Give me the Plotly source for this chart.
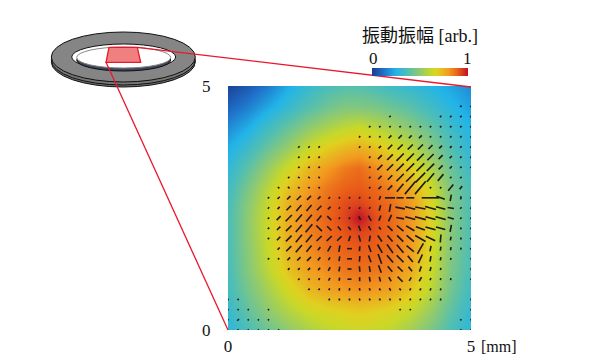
import math
import plotly.graph_objects as go

W, H = 600, 364
X_GRID = [0, .42, .83, 1.25, 1.67, 2.08, 2.4, 2.7, 3.0, 3.33, 3.75, 4.17, 4.58, 5]
Y_GRID = [0, .42, .83, 1.25, 1.67, 2.0, 2.3, 2.6, 2.92, 3.33, 3.75, 4.17, 4.58, 5]
AMPLITUDE = [
    [.28,.36,.43,.50,.56,.60,.62,.63,.62,.60,.54,.46,.36,.28],
    [.31,.41,.50,.58,.64,.67,.69,.70,.69,.67,.62,.52,.40,.30],
    [.34,.45,.55,.65,.73,.78,.80,.81,.80,.78,.71,.59,.44,.33],
    [.35,.48,.60,.72,.79,.83,.86,.87,.86,.84,.77,.63,.46,.35],
    [.36,.49,.62,.75,.82,.87,.89,.90,.89,.87,.80,.65,.47,.36],
    [.36,.50,.63,.77,.84,.88,.91,.93,.91,.88,.81,.66,.48,.36],
    [.36,.50,.63,.77,.84,.89,.93,1.0,.92,.88,.81,.67,.48,.36],
    [.35,.49,.62,.76,.83,.88,.92,.93,.90,.87,.80,.66,.47,.36],
    [.33,.46,.59,.72,.80,.86,.89,.90,.88,.84,.76,.63,.46,.35],
    [.29,.40,.52,.64,.74,.80,.85,.87,.83,.77,.69,.56,.42,.32],
    [.24,.32,.42,.52,.62,.69,.73,.75,.72,.66,.59,.48,.37,.28],
    [.17,.24,.33,.42,.50,.56,.60,.62,.59,.55,.49,.41,.32,.25],
    [.09,.15,.23,.31,.38,.44,.47,.47,.46,.43,.39,.33,.27,.21],
    [.02,.07,.14,.24,.31,.36,.38,.38,.36,.33,.30,.26,.22,.17],
]
COLORS = [[0, "#1b3a90"], [.12, "#1f70c8"], [.25, "#22b4e8"], [.38, "#55bfae"],
          [.5, "#8fca70"], [.62, "#c8d828"], [.68, "#e0d020"], [.8, "#f29a20"],
          [.9, "#e85a18"], [1, "#c0102a"]]

FIELD_CELLS = 24
_ = None
# segment length per grid node, row 0 = bottom, column 0 = left
SEG_LEN = [
 [_,4,4,4,4,4,_,_,_,_,_,_,_,_,_,_,_,_,_,_,_,_,_,4,4],
 [4,6,4,4,4,_,_,_,_,_,_,_,_,_,_,_,_,_,_,_,_,_,_,4,4],
 [4,4,4,_,4,_,_,_,_,_,_,_,_,_,_,_,_,4,4,_,_,_,_,_,4],
 [4,4,_,_,_,_,_,_,_,_,5,5,5,5,5,5,5,5,5,5,5,5,_,_,4],
 [_,_,_,_,_,_,_,_,5,5,5,6,6,6,6,6,7,6,6,6,6,5,_,_,_],
 [_,_,_,_,_,_,_,5,5,6,8,8,10,10,12,12,12,18,10,12,6,5,5,_,4],
 [_,_,_,_,_,_,6,6,8,8,10,12,10,14,14,20,18,18,14,14,10,6,_,_,4],
 [_,_,_,_,5,5,10,12,14,10,8,12,12,14,18,26,24,24,20,24,14,8,5,_,4],
 [_,_,_,_,_,8,18,24,20,10,16,16,12,12,18,24,26,26,24,30,14,10,8,5,5],
 [_,_,_,_,5,12,20,24,24,18,18,16,14,16,14,18,20,22,24,30,26,20,10,5,5],
 [_,_,_,_,5,12,20,24,26,20,15,12,10,14,12,8,18,22,24,24,26,24,18,5,5],
 [_,_,_,_,5,14,22,24,22,18,14,5,5,10,15,14,18,20,26,28,26,26,16,5,5],
 [_,_,_,_,5,8,16,20,20,16,10,5,5,5,5,14,20,24,26,26,28,24,16,5,5],
 [_,_,_,_,5,8,12,15,14,10,6,5,5,5,5,10,25,18,20,_,44,22,16,8,5],
 [_,_,_,_,_,5,6,5,5,5,_,_,_,_,5,10,16,26,42,42,5,5,20,10,_],
 [_,_,_,_,_,_,5,5,5,5,_,_,_,_,5,12,16,26,30,34,28,22,5,5,_],
 [_,_,_,_,_,_,_,5,5,5,_,_,_,_,5,18,22,26,28,28,26,14,8,5,5],
 [_,_,_,_,_,_,_,5,5,5,_,_,_,_,5,14,20,26,26,24,22,14,8,5,5],
 [_,_,_,_,_,_,_,5,5,5,_,_,_,5,5,8,16,18,18,18,14,10,6,5,5],
 [_,_,_,_,_,_,_,_,_,_,_,_,_,5,5,5,10,12,10,10,5,5,5,5,5],
 [_,_,_,_,_,_,_,_,_,_,_,_,_,_,5,5,5,5,5,5,5,5,5,5,5],
 [_,_,_,_,_,_,_,_,_,_,_,_,_,_,_,_,5,_,_,_,_,5,5,5,5],
 [_,_,_,_,_,_,_,_,_,_,_,_,_,_,_,_,_,_,_,_,_,_,_,5,5],
]
# segment direction in degrees per grid node
SEG_ANG = [
 [_,45,45,45,45,45,_,_,_,_,_,_,_,_,_,_,_,_,_,_,_,_,_,45,45],
 [45,45,45,45,45,_,_,_,_,_,_,_,_,_,_,_,_,_,_,_,_,_,_,45,45],
 [45,45,45,_,45,_,_,_,_,_,_,_,_,_,_,_,_,45,45,_,_,_,_,_,45],
 [45,45,_,_,_,_,_,_,_,_,60,80,80,-70,-60,-60,-60,-60,60,60,60,80,_,_,45],
 [_,_,_,_,_,_,_,_,45,45,60,80,80,-80,-70,-60,-60,-50,60,60,70,80,_,_,_],
 [_,_,_,_,_,_,_,45,45,60,60,80,0,90,-80,-75,-60,-45,60,60,70,80,80,_,45],
 [_,_,_,_,_,_,45,45,45,50,60,80,0,-85,-80,-70,-50,-45,-50,70,75,80,_,_,45],
 [_,_,_,_,45,45,45,45,45,50,60,80,0,85,-70,-70,-50,-45,-50,65,80,80,80,_,45],
 [_,_,_,_,_,45,45,50,50,50,60,80,0,85,-70,-60,-55,-50,-40,60,80,80,80,80,45],
 [_,_,_,_,45,45,45,50,50,45,45,45,70,-75,80,-55,-50,-45,-40,-30,-25,85,80,80,45],
 [_,_,_,_,45,45,45,50,50,-45,-45,-50,-50,-70,-60,-50,-45,-40,-30,-20,-15,-15,80,80,45],
 [_,_,_,_,45,45,45,50,50,50,-45,45,45,-60,-60,70,65,-10,-15,-15,-15,-15,-15,45,45],
 [_,_,_,_,45,45,45,50,50,45,45,45,45,45,45,75,80,-10,-15,-12,-15,-15,-10,45,45],
 [_,_,_,_,45,45,45,45,45,45,45,45,45,45,45,70,0,0,0,_,0,-20,80,80,45],
 [_,_,_,_,_,-45,-45,-45,-45,-45,_,_,_,_,45,45,45,50,50,50,45,45,50,50,_],
 [_,_,_,_,_,_,45,-45,-45,-45,_,_,_,_,45,45,45,45,45,45,50,50,45,45,_],
 [_,_,_,_,_,_,_,45,45,45,_,_,_,_,45,45,45,45,45,45,45,45,45,45,45],
 [_,_,_,_,_,_,_,45,45,45,_,_,_,_,45,45,45,45,45,45,45,45,45,45,45],
 [_,_,_,_,_,_,_,45,45,45,_,_,_,45,45,45,45,45,45,45,45,45,45,45,45],
 [_,_,_,_,_,_,_,_,_,_,_,_,_,45,45,45,45,45,45,45,45,45,45,45,45],
 [_,_,_,_,_,_,_,_,_,_,_,_,_,_,45,45,45,45,45,45,45,45,45,45,45],
 [_,_,_,_,_,_,_,_,_,_,_,_,_,_,_,_,45,_,_,_,_,45,45,45,45],
 [_,_,_,_,_,_,_,_,_,_,_,_,_,_,_,_,_,_,_,_,_,_,_,45,45],
]
LEN_TO_MM = 1.2 * 5 / 729

CBAR_TICKS = ["0", "1"]
CBAR_TITLE = "振動振幅 [arb.]"
AXIS_TICKS = [0, 5]
UNIT_LABEL = "[mm]"

SERIF = "Liberation Serif, Noto Sans CJK JP"


def px(x):
    return x / W


def py(y):
    return 1 - y / H


seg_x, seg_y = [], []
step = 5 / FIELD_CELLS
for r, row in enumerate(SEG_LEN):
    for c, length in enumerate(row):
        if length is None:
            continue
        a = math.radians(SEG_ANG[r][c])
        half = length * LEN_TO_MM / 2
        cx, cy = c * step, r * step
        seg_x += [cx - half * math.cos(a), cx + half * math.cos(a), None]
        seg_y += [cy - half * math.sin(a), cy + half * math.sin(a), None]

fig = go.Figure()
fig.add_trace(go.Heatmap(
    x=X_GRID, y=Y_GRID, z=AMPLITUDE, zmin=0, zmax=1, zsmooth="best", colorscale=COLORS,
    hoverinfo="skip",
    colorbar=dict(orientation="h", x=px(372), xanchor="left", y=py(76), yanchor="bottom",
                  lenmode="pixels", len=96, thicknessmode="pixels", thickness=8,
                  xpad=0, ypad=0, outlinewidth=0, showticklabels=False, ticks="")))
fig.add_trace(go.Scatter(x=seg_x, y=seg_y, mode="lines", hoverinfo="skip", showlegend=False,
                         line=dict(color="#1a1a1a", width=1.6)))


def ellipse(cx, cy, rx, ry, fill, line="#111", w=1):
    return dict(type="circle", xref="paper", yref="paper", x0=px(cx - rx), x1=px(cx + rx),
                y0=py(cy + ry), y1=py(cy - ry), fillcolor=fill, line=dict(color=line, width=w), layer="above")


def link(x0, y0, x1, y1):
    return dict(type="line", xref="paper", yref="paper", x0=px(x0), y0=py(y0), x1=px(x1), y1=py(y1),
                line=dict(color="#e8182c", width=1.3), layer="above")


panel = "M %f,%f L %f,%f L %f,%f L %f,%f Z" % (
    px(109), py(47.3), px(137.3), py(47.3), px(140.7), py(62.3), px(106), py(62.3))
shapes = [
    ellipse(123.3, 62, 72, 25, "#6e6e6e"),
    ellipse(123.3, 60, 72, 25, "#777777"),
    ellipse(123.3, 57, 72, 25, "#858585"),
    ellipse(123.7, 57, 52, 13, "#ffffff"),
    ellipse(123.7, 60, 47, 11, "#3c4658"),
    ellipse(123.7, 57.5, 47, 10.5, "#ffffff", "#888888"),
    dict(type="path", xref="paper", yref="paper", path=panel, fillcolor="#f08080",
         line=dict(color="#e8182c", width=1.3), layer="above"),
    link(137.3, 47.3, 471, 87),
    link(106, 62.3, 228, 330),
]


def label(text, x, y, size=17, anchor="center"):
    return dict(text=text, x=px(x), y=py(y), xref="paper", yref="paper", xanchor=anchor, yanchor="middle",
                showarrow=False, font=dict(family=SERIF, size=size, color="#111"))


annotations = [
    label(CBAR_TITLE, 420, 36, 18),
    label(CBAR_TICKS[0], 373, 59),
    label(CBAR_TICKS[1], 467, 59),
    label(UNIT_LABEL, 479, 346, 16, "left"),
]

axis = dict(range=[0, 5], tickvals=AXIS_TICKS, showgrid=False, zeroline=False, showline=False,
            ticks="outside", tickcolor="rgba(0,0,0,0)", tickfont=dict(family=SERIF, size=17, color="#111"))
fig.update_layout(
    width=W, height=H, margin=dict(l=0, r=0, t=0, b=0, autoexpand=False),
    paper_bgcolor="white", plot_bgcolor="white", showlegend=False,
    xaxis=dict(axis, domain=[px(228), px(471)], ticklen=1),
    yaxis=dict(axis, domain=[py(330), py(86)], ticklen=13),
    shapes=shapes, annotations=annotations,
)
fig.write_html("out.html", config={"displayModeBar": False}, post_script="document.body.style.margin='0';")
